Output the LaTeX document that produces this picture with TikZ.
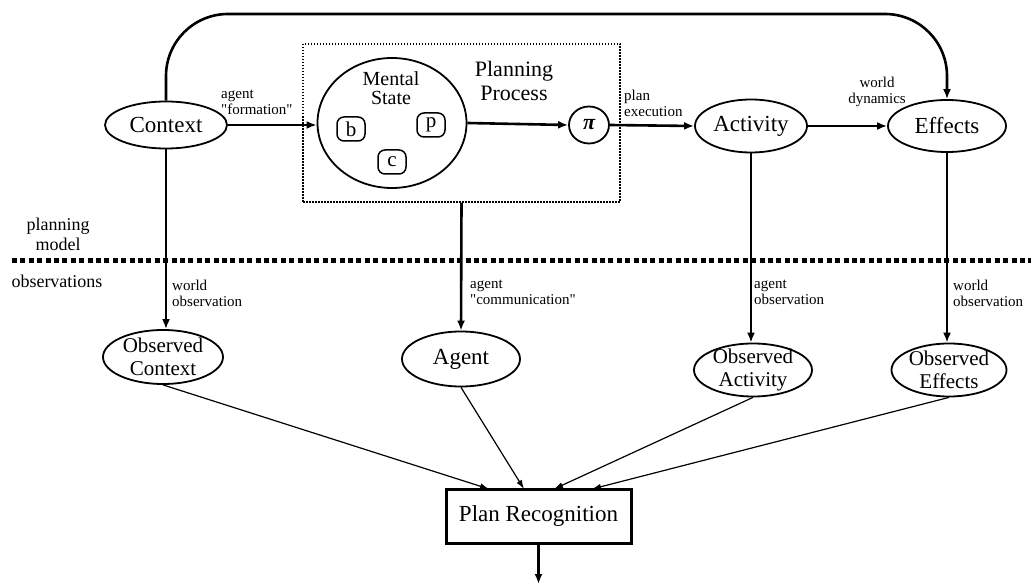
\documentclass[tikz,border=0pt]{standalone}
\usepackage{fontspec}
\setmainfont{Liberation Serif}
\newfontfamily\plainfont{Liberation Serif}
\usetikzlibrary{arrows.meta,shapes.geometric}
\begin{document}
\begin{tikzpicture}[x=1pt,y=-1pt,
  oval/.style={draw, ellipse, line width=1.8pt, inner sep=0pt},
  bigfont/.style={font=\fontsize{23}{25}\selectfont},
  obsfont/.style={font=\fontsize{21}{23}\selectfont, align=center},
  smallfont/.style={font=\plainfont\fontsize{15}{16}\selectfont, inner sep=0pt},
  sidefont/.style={font=\fontsize{18}{20}\selectfont, inner sep=0pt, align=center},
  thick arrow/.style={line width=2.6pt, -{Latex[length=10pt,width=8pt]}},
  thin arrow/.style={line width=1.2pt, -{Latex[length=9pt,width=6pt]}},
  letterbox/.style={draw, rounded corners=7pt, line width=1.5pt, minimum width=28pt, minimum height=24pt, inner sep=0pt, font=\fontsize{21}{22}\selectfont},
  pifont/.style={font=\fontsize{22}{24}\selectfont\bfseries\itshape},
]
\useasboundingbox (0,0) rectangle (1031,585);

% planning process box
\node[draw, line width=1.5pt, dash pattern=on 1.5pt off 1.5pt, minimum width=317pt, minimum height=158pt, inner sep=0pt] (PP) at (461.5,123) {};
\node[font=\fontsize{22}{24}\selectfont, align=center, inner sep=0pt, anchor=north] (pptext) at (514,61) {Planning\\Process};

% top row
\node[oval, minimum width=122pt, minimum height=47pt, label={[bigfont]center:Context}] (Context) at (166,125) {};
\node[oval, minimum width=149pt, minimum height=130pt] (Mental) at (392,123) {};
\node[font=\fontsize{20}{19}\selectfont, align=center, inner sep=0pt, anchor=north] (mstext) at (391,71) {Mental\\State};
\node[letterbox] (bbox) at (351,129) {b};
\node[letterbox] (pbox) at (431,125) {p};
\node[letterbox] (cbox) at (392,162) {c};
\node[oval, minimum width=40pt, minimum height=37pt, pifont] (piN) at (589,125) {π};
\node[oval, minimum width=112pt, minimum height=53pt, label={[bigfont]center:Activity}] (Activity) at (751,126) {};
\node[oval, minimum width=118pt, minimum height=52pt, label={[bigfont]center:Effects}] (Effects) at (947,126) {};

% separator
\draw[line width=5pt, dash pattern=on 5pt off 3.4pt] (12,261) -- (1031,261);
\node[sidefont, anchor=north] (pm) at (58,218) {planning\\model};
\node[sidefont, anchor=base] (obs) at (57,288) {observations};

% observation row
\node[oval, minimum width=120pt, minimum height=54pt, label={[obsfont]center:{Observed\\Context}}] (OContext) at (163,357) {};
\node[oval, minimum width=118pt, minimum height=55pt, label={[bigfont]center:Agent}] (Agent) at (461,359) {};
\node[oval, minimum width=118pt, minimum height=53pt, label={[obsfont]center:{Observed\\Activity}}] (OActivity) at (753,370) {};
\node[oval, minimum width=115pt, minimum height=53pt, label={[obsfont]center:{Observed\\Effects}}] (OEffects) at (949,370) {};

% plan recognition
\node[draw, line width=3pt, minimum width=185pt, minimum height=54pt, inner sep=0pt, font=\fontsize{23}{25}\selectfont] (PR) at (538.5,516) {Plan Recognition};
\coordinate (out) at (538.5,584);
\coordinate (topc) at (500,14);
\coordinate (in1) at (489,489);
\coordinate (in2) at (524,489);
\coordinate (in3) at (554,489);
\coordinate (in4) at (592,489);

% arrows top row
\draw[thick arrow] (Context.east) -- (Context.east -| Mental.west);
\draw[thick arrow] (Mental.east) -- (piN.west);
\draw[thick arrow] (piN.east) -- (Activity.west);
\draw[thick arrow] (Activity.east) -- (Effects.west);
\draw[thick arrow, rounded corners=62pt] (Context.north) |- (topc) -| (Effects.north);

% labels
\node[smallfont, anchor=north west, align=left] (lform) at (221,90) {agent\\"formation"};
\node[smallfont, anchor=north west, align=left] (lexec) at (624,90) {plan\\execution};
\node[smallfont, anchor=north, align=center] (ldyn) at (877,77) {world\\dynamics};

% downward arrows
\draw[thick arrow] (Context.south) -- (Context.south |- OContext.north);
\draw[thick arrow] (PP.south) -- (Agent.north);
\draw[thick arrow] (Activity.south) -- (Activity.south |- OActivity.north);
\draw[thick arrow] (Effects.south) -- (Effects.south |- OEffects.north);
\node[smallfont, anchor=north west, align=left] (l1) at (172,280) {world\\observation};
\node[smallfont, anchor=north west, align=left] (l2) at (470,280) {agent\\"communication"};
\node[smallfont, anchor=north west, align=left] (l3) at (754,280) {agent\\observation};
\node[smallfont, anchor=north west, align=left] (l4) at (953,280) {world\\observation};

% to plan recognition
\draw[thin arrow] (OContext.south) -- (in1);
\draw[thin arrow] (Agent.south) -- (in2);
\draw[thin arrow] (OActivity.south) -- (in3);
\draw[thin arrow] (OEffects.south) -- (in4);
\draw[thick arrow] (PR.south) -- (out);
\end{tikzpicture}
\end{document}
